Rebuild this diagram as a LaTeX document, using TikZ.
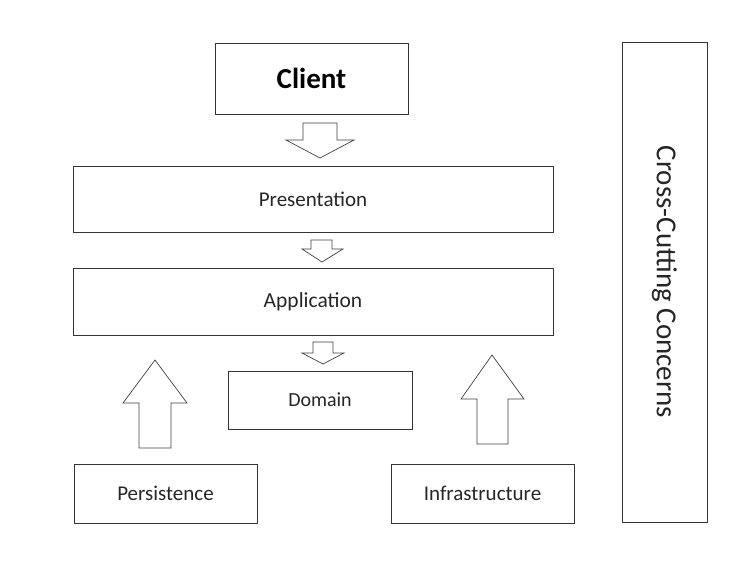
\documentclass[tikz,border=0pt]{standalone}
\usepackage{fontspec}
\setmainfont{Carlito}
\usepackage{tikz}
\usetikzlibrary{positioning}

\tikzset{
  layer/.style={draw=black!80, line width=0.8pt, inner sep=0pt, text=black!85, font=\fontsize{21}{25}\selectfont},
  blockarrow/.style={draw=black!75, line width=0.7pt, fill=white, line join=miter}
}

\begin{document}
\begin{tikzpicture}[x=1pt, y=-1pt]
\useasboundingbox (0, 0) rectangle (755, 562);
\node [layer, minimum width=193pt, minimum height=71pt, font=\fontsize{29}{33}\selectfont\bfseries, text=black] (client) at (311.5, 78.5) {Client};
\node [layer, minimum width=480pt, minimum height=66pt] (presentation) at (313, 199) {Presentation};
\node [layer, minimum width=480pt, minimum height=67pt, font=\fontsize{21.5}{25}\selectfont] (application) at (313, 301.5) {Application};
\node [layer, minimum width=184pt, minimum height=58pt, font=\fontsize{20}{24}\selectfont] (domain) at (320, 400) {Domain};
\node [layer, minimum width=183pt, minimum height=59pt] (persistence) at (165.5, 493.5) {Persistence};
\node [layer, minimum width=183pt, minimum height=59pt] (infrastructure) at (482.5, 493.5) {Infrastructure};
\node [layer, minimum width=85pt, minimum height=480pt] (crosscutting) at (664.5, 282) {};
\node [rotate=-90, text=black!85, font=\fontsize{29}{34}\selectfont] at (crosscutting.center) {Cross-Cutting Concerns};
% block arrows between the layers
\draw [blockarrow] (303, 123) -- (337, 123) -- (337, 140) -- (354, 140) -- (320, 158) -- (286, 140) -- (303, 140) -- cycle;
\draw [blockarrow] (311, 240) -- (332, 240) -- (332, 249) -- (343, 249) -- (322, 262) -- (302, 249) -- (311, 249) -- cycle;
\draw [blockarrow] (313, 342) -- (333, 342) -- (333, 353) -- (344, 353) -- (323, 364) -- (302, 353) -- (313, 353) -- cycle;
\draw [blockarrow] (139, 448) -- (171, 448) -- (171, 403) -- (187, 403) -- (155, 360) -- (123, 403) -- (139, 403) -- cycle;
\draw [blockarrow] (477, 444) -- (508, 444) -- (508, 399) -- (524, 399) -- (492, 355) -- (461, 399) -- (477, 399) -- cycle;
\end{tikzpicture}
\end{document}
